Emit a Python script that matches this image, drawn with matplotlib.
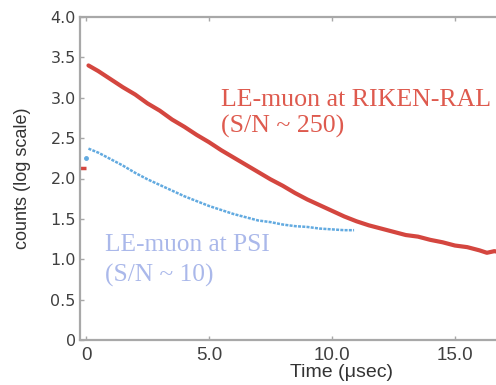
import matplotlib
matplotlib.use("Agg")
import matplotlib.pyplot as plt

# Data
red_x = [0.1, 0.5, 1, 1.5, 2, 2.5, 3, 3.5, 4, 4.5, 5, 5.5, 6, 6.5, 7, 7.5, 8, 8.5,
         9, 9.5, 10, 10.5, 11, 11.5, 12, 12.5, 13, 13.5, 14, 14.5, 15, 15.5, 16,
         16.3, 16.6, 16.8]
red_y = [3.40, 3.33, 3.23, 3.13, 3.04, 2.93, 2.84, 2.73, 2.64, 2.54, 2.45, 2.35,
         2.26, 2.17, 2.08, 1.99, 1.91, 1.82, 1.74, 1.67, 1.60, 1.53, 1.47, 1.42,
         1.38, 1.34, 1.30, 1.28, 1.24, 1.21, 1.17, 1.15, 1.11, 1.08, 1.10, 1.09]
red_pre_x = [-0.12]
red_pre_y = [2.13]

blue_x = [0.1, 0.5, 1, 1.5, 2, 2.5, 3, 3.5, 4, 4.5, 5, 5.5, 6, 6.5, 7, 7.5, 8,
          8.5, 9, 9.5, 10, 10.5, 10.9]
blue_y = [2.37, 2.32, 2.24, 2.16, 2.07, 1.99, 1.92, 1.85, 1.78, 1.72, 1.66, 1.61,
          1.56, 1.52, 1.48, 1.46, 1.43, 1.41, 1.40, 1.38, 1.37, 1.36, 1.36]
blue_pre_x = [0.0]
blue_pre_y = [2.25]

x_ticks = [0, 5, 10, 15]
x_ticklabels = ["0", "5.0", "10.0", "15.0"]
y_ticks = [0, 0.5, 1.0, 1.5, 2.0, 2.5, 3.0, 3.5, 4.0]
y_ticklabels = ["0", "0.5", "1.0", "1.5", "2.0", "2.5", "3.0", "3.5", "4.0"]

RED = "#d4463f"
RED_TXT = "#de5a4e"
BLUE = "#62aae0"
BLUE_TXT = "#aab8ea"
GREY = "#a8a8a8"

fig = plt.figure(figsize=(4.96, 3.85), dpi=100)
ax = fig.add_axes([80 / 496, 45 / 385, 522 / 496, 323 / 385])

ax.plot(red_x, red_y, color=RED, lw=3.0, solid_capstyle="round")
ax.plot(red_pre_x, red_pre_y, marker="_", color=RED, ms=5, mew=2.5, ls="none")
ax.plot(blue_x, blue_y, color=BLUE, lw=1.8, ls=(0, (1.2, 0.5)))
ax.plot(blue_pre_x, blue_pre_y, marker="o", color=BLUE, ms=2.5, ls="none")

ax.set_xlim(-0.244, 20.98)
ax.set_ylim(0, 4.0)

for s in ["left", "bottom", "top"]:
    ax.spines[s].set_color(GREY)
    ax.spines[s].set_linewidth(1.6)
ax.spines["right"].set_visible(False)

ax.set_xticks(x_ticks)
ax.set_xticklabels(x_ticklabels, fontfamily="Liberation Sans", fontsize=13.5, color="#404040")
ax.set_yticks(y_ticks)
ax.set_yticklabels(y_ticklabels, fontfamily="DejaVu Sans", fontsize=11.5, color="#404040")
ax.tick_params(axis="both", direction="in", length=3, width=1, color=GREY, top=True)
ax.tick_params(axis="y", pad=3)
ax.tick_params(axis="x", pad=5)

ax.set_xlabel("Time (\u03bcsec)", fontfamily="Liberation Sans", fontsize=14, color="#333333", labelpad=0)
ax.set_ylabel("counts (log scale)", fontfamily="Liberation Sans", fontsize=13, color="#333333")
ax.yaxis.set_label_coords(-0.094, 0.5)

serif = "Liberation Serif"
ax.text(5.49, 2.90, "LE-muon at RIKEN-RAL", color=RED_TXT, fontfamily=serif, fontsize=18.6, va="baseline")
ax.text(5.49, 2.57, "(S/N ~ 250)", color=RED_TXT, fontfamily=serif, fontsize=18.6, va="baseline")
ax.text(0.77, 1.10, "LE-muon at PSI", color=BLUE_TXT, fontfamily=serif, fontsize=18.3, va="baseline")
ax.text(0.77, 0.72, "(S/N ~ 10)", color=BLUE_TXT, fontfamily=serif, fontsize=18.3, va="baseline")

fig.savefig("out.png", dpi=100)
